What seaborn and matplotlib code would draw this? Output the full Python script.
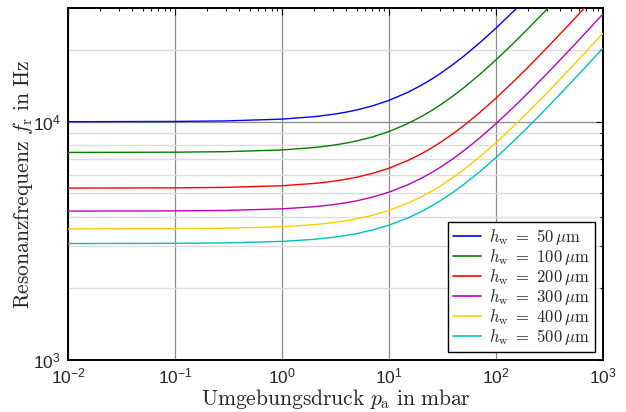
import numpy as np
import pandas as pd
import matplotlib
matplotlib.use("Agg")
import matplotlib.pyplot as plt
import seaborn as sns
from matplotlib.ticker import LogLocator, LogFormatterSciNotation, NullFormatter

# Ambient pressure in mbar
pressure = [0.01, 0.1, 0.3, 1, 2, 3, 4, 5, 7, 10, 15, 20, 25, 30, 40, 50, 70,
            100, 150, 200, 300, 500, 700, 1000]

# Resonance frequency in Hz for each wall thickness
f_50 = [10000, 10025, 10076, 10252, 10498, 10738, 10973, 11203, 11649, 12288,
        13285, 14213, 15083, 15906, 17436, 18841, 21378,
        24698, 29411, 33466, 40373, 51478, 60581, 72111]
f_100 = [7432, 7448, 7485, 7612, 7791, 7966, 8136, 8304, 8628, 9094,
         9821, 10498, 11133, 11735, 12853, 13882, 15738,
         18171, 21626, 24601, 29668, 37818, 44497, 52963]
f_200 = [5266, 5277, 5302, 5387, 5506, 5623, 5738, 5850, 6068, 6381,
         6872, 7329, 7760, 8168, 8929, 9629, 10896,
         12559, 14924, 16962, 20438, 26033, 30622, 36438]
f_300 = [4216, 4225, 4243, 4308, 4398, 4486, 4573, 4658, 4823, 5062,
         5436, 5785, 6115, 6428, 7012, 7551, 8528,
         9812, 11641, 13220, 15915, 20255, 23817, 28333]
f_400 = [3550, 3557, 3572, 3625, 3699, 3771, 3842, 3912, 4047, 4243,
         4550, 4837, 5109, 5367, 5848, 6293, 7099,
         8161, 9675, 10982, 13214, 16811, 19764, 23508]
f_500 = [3081, 3087, 3100, 3146, 3209, 3272, 3333, 3393, 3511, 3680,
         3945, 4194, 4429, 4652, 5068, 5453, 6151,
         7070, 8381, 9513, 11445, 14560, 17117, 20359]

thickness = [50, 100, 200, 300, 400, 500]
series = [f_50, f_100, f_200, f_300, f_400, f_500]
colors = ["#0000ff", "#008000", "#ff0000", "#bf00bf", "#ffcc00", "#00bfbf"]

labels = [r"$h_\mathrm{w}\ =\ %d\,\mu\mathrm{m}$" % h for h in thickness]

df = pd.concat(
    [pd.DataFrame({"p": pressure, "f": f, "h": lab}) for f, lab in zip(series, labels)],
    ignore_index=True,
)

sns.set_theme(style="white")
plt.rcParams["font.family"] = ["Liberation Sans", "DejaVu Sans"]
plt.rcParams["mathtext.fontset"] = "cm"

fig = plt.figure(figsize=(6.26, 4.12), dpi=100)
ax = fig.add_axes([68 / 626, 52 / 412, 535 / 626, 352 / 412])

sns.lineplot(data=df, x="p", y="f", hue="h", hue_order=labels,
             palette=colors, linewidth=1.0, ax=ax, legend=False, zorder=3)

ax.set_xscale("log")
ax.set_yscale("log")
ax.set_xlim(1e-2, 1e3)
ax.set_ylim(1e3, 3e4)

ax.xaxis.set_major_locator(LogLocator(base=10, numticks=10))
ax.xaxis.set_minor_locator(LogLocator(base=10, subs=np.arange(2, 10), numticks=20))
ax.yaxis.set_major_locator(LogLocator(base=10, numticks=10))
ax.yaxis.set_minor_locator(LogLocator(base=10, subs=np.arange(2, 10), numticks=20))
ax.xaxis.set_major_formatter(LogFormatterSciNotation())
ax.yaxis.set_major_formatter(LogFormatterSciNotation())
ax.xaxis.set_minor_formatter(NullFormatter())
ax.yaxis.set_minor_formatter(NullFormatter())

ax.grid(True, which="major", axis="both", color="#8c8c8c", linewidth=0.9, zorder=1)
ax.grid(True, which="minor", axis="y", color="#dcdcdc", linewidth=1.0, zorder=1)
ax.set_axisbelow(True)

ax.tick_params(which="both", direction="in", top=True, right=True,
               color="black", width=0.8)
ax.tick_params(which="major", length=5, labelsize=12.5, pad=5)
ax.tick_params(which="minor", length=2.5)

for sp in ax.spines.values():
    sp.set_color("black")
    sp.set_linewidth(1.4)

ax.set_xlabel(r"$\mathrm{Umgebungsdruck}\ p_\mathrm{a}\ \mathrm{in\ mbar}$",
              fontsize=15.5, labelpad=0)
ax.set_ylabel(r"$\mathrm{Resonanzfrequenz}\ f_\mathrm{r}\ \mathrm{in\ Hz}$",
              fontsize=15.5, labelpad=-1)

handles = [plt.Line2D([], [], color=c, linewidth=1.2) for c in colors]
leg = ax.legend(handles, labels, loc="lower right", fontsize=12,
                frameon=True, fancybox=False, framealpha=1,
                edgecolor="black", handlelength=1.65, handletextpad=0.5,
                labelspacing=0.0, borderpad=0.3, borderaxespad=0.5)
leg.get_frame().set_linewidth(1.0)

fig.savefig("out.png", dpi=100)
